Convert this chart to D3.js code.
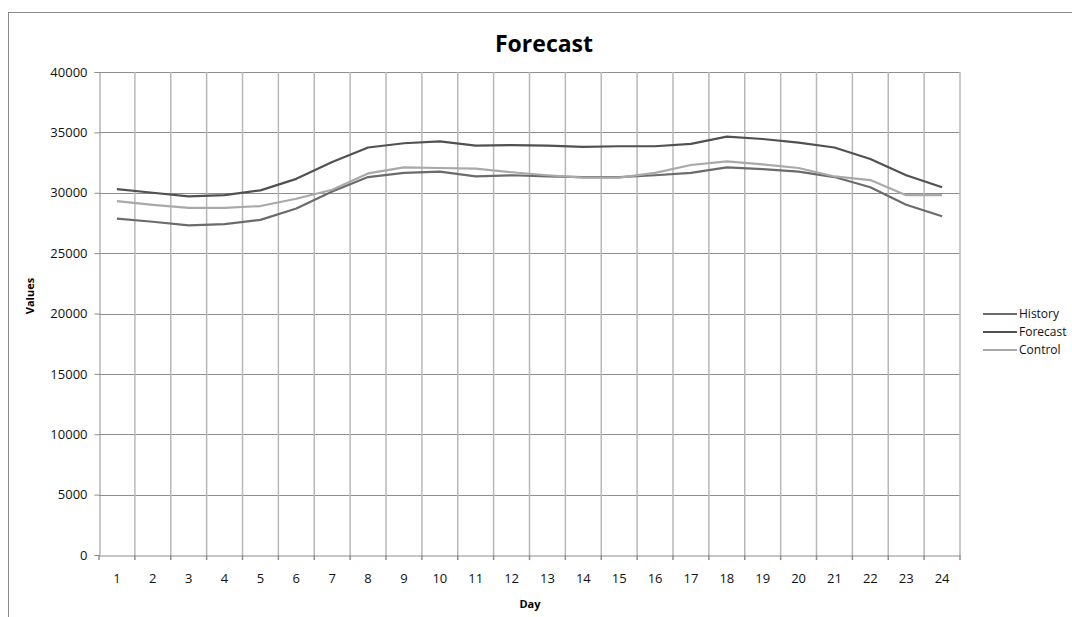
<!DOCTYPE html>
<html>
<head>
<meta charset="utf-8">
<script src="https://cdn.jsdelivr.net/npm/d3@7"></script>
<style>
  html, body { margin: 0; padding: 0; background: #fff; }
  svg { display: block; font-family: "Open Sans", sans-serif; }
</style>
</head>
<body>
<svg id="chart" width="1072" height="617"></svg>
<script>
const days = [1,2,3,4,5,6,7,8,9,10,11,12,13,14,15,16,17,18,19,20,21,22,23,24];
const historyValues  = [27850,27600,27300,27400,27750,28700,30100,31300,31650,31750,31350,31450,31350,31300,31300,31450,31650,32100,31950,31750,31300,30450,29000,28050];
const forecastValues = [30300,30000,29700,29800,30200,31150,32550,33750,34100,34250,33900,33950,33900,33800,33850,33850,34050,34650,34450,34150,33750,32800,31450,30450];
const controlValues  = [29300,29000,28750,28750,28900,29500,30250,31600,32100,32050,32000,31700,31450,31250,31250,31650,32300,32600,32350,32050,31350,31050,29800,29800];
const yTicks = [0,5000,10000,15000,20000,25000,30000,35000,40000];
const seriesNames = ["History","Forecast","Control"];
const seriesColors = ["#6b6b6b","#515151","#a9a9a9"];
const seriesValues = [historyValues, forecastValues, controlValues];

const svg = d3.select("#chart");
const pLeft = 99, pRight = 960, pTop = 72, pBottom = 555;

// frame
svg.append("rect").attr("x",8.5).attr("y",12.5).attr("width",1080).attr("height",640)
  .attr("fill","none").attr("stroke","#8a8a8a").attr("stroke-width",1);

const x = d3.scaleBand().domain(days).range([pLeft, pRight]).padding(0);
const y = d3.scaleLinear().domain([0,40000]).range([pBottom, pTop]);

// horizontal gridlines
svg.append("g").selectAll("line").data(yTicks.filter(d=>d>0)).join("line")
  .attr("x1",pLeft).attr("x2",pRight)
  .attr("y1",d=>Math.round(y(d))+0.5).attr("y2",d=>Math.round(y(d))+0.5)
  .attr("stroke","#8e8e8e").attr("stroke-width",1);

// vertical gridlines at category boundaries
const bounds = days.map(d=>x(d)).concat([x.range()[1]]);
svg.append("g").selectAll("line").data(bounds.slice(1)).join("line")
  .attr("x1",d=>d).attr("x2",d=>d).attr("y1",pTop).attr("y2",pBottom)
  .attr("stroke","#b8b8b8").attr("stroke-width",1.5);

// x axis
const xAxis = svg.append("g").attr("transform",`translate(0,${Math.round(pBottom)+0.5})`)
  .call(d3.axisBottom(x).tickSize(0).tickPadding(18));
xAxis.select(".domain").attr("stroke","#8e8e8e");
xAxis.selectAll("text").attr("font-size","13px").attr("fill","#111").attr("font-family","Open Sans");
svg.append("g").selectAll("line").data(bounds).join("line")
  .attr("x1",d=>d).attr("x2",d=>d).attr("y1",pBottom).attr("y2",pBottom+5)
  .attr("stroke","#8e8e8e").attr("stroke-width",1.5);

// y axis
const yAxis = svg.append("g").attr("transform",`translate(${pLeft+0.5},0)`)
  .call(d3.axisLeft(y).tickValues(yTicks).tickFormat(d3.format("d")).tickSize(5).tickPadding(7));
yAxis.select(".domain").attr("stroke","#8e8e8e");
yAxis.selectAll(".tick line").attr("stroke","#8e8e8e");
yAxis.selectAll("text").attr("font-size","13px").attr("fill","#111").attr("font-family","Open Sans");

// lines
const line = d3.line().x((d,i)=>x(days[i]) + x.bandwidth()/2).y(d=>y(d));
seriesValues.forEach((vals,k)=>{
  svg.append("path").datum(vals).attr("d",line)
    .attr("fill","none").attr("stroke",seriesColors[k]).attr("stroke-width",2.2)
    .attr("stroke-linejoin","round");
});

// title
svg.append("text").attr("x",544).attr("y",52).attr("text-anchor","middle")
  .attr("font-size","23px").attr("font-weight","bold").attr("fill","#000").text("Forecast");

// axis titles
svg.append("text").attr("x",530).attr("y",608).attr("text-anchor","middle")
  .attr("font-size","11px").attr("font-weight","bold").attr("fill","#000").text("Day");
svg.append("text").attr("transform","translate(34,296) rotate(-90)").attr("text-anchor","middle")
  .attr("font-size","11px").attr("font-weight","bold").attr("fill","#000").text("Values");

// legend
const lg = svg.append("g");
seriesNames.forEach((n,k)=>{
  const yy = 314 + k*18;
  lg.append("line").attr("x1",983).attr("x2",1017).attr("y1",yy).attr("y2",yy)
    .attr("stroke",seriesColors[k]).attr("stroke-width",2.2);
  lg.append("text").attr("x",1019).attr("y",yy).attr("dy","0.35em")
    .attr("font-size","12px").attr("fill","#111").text(n);
});
</script>
</body>
</html>
